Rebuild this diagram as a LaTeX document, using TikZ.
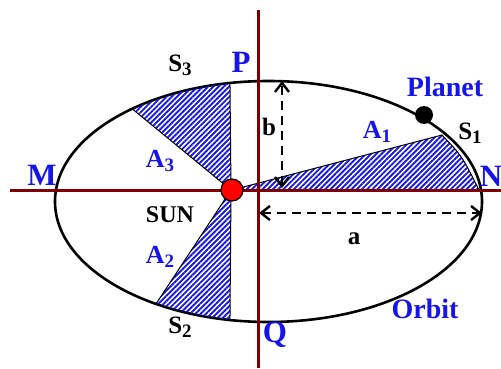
\documentclass[tikz,border=0pt]{standalone}
\usepackage{fontspec}
\setmainfont{Liberation Serif}
\usetikzlibrary{patterns.meta,arrows.meta}
\definecolor{axisred}{RGB}{128,0,0}
\definecolor{lblue}{RGB}{20,20,235}
\definecolor{hblue}{RGB}{25,25,220}
\newcommand\mysub[1]{\raisebox{-4pt}{\fontsize{19}{19}\selectfont #1}}
\begin{document}
\begin{tikzpicture}[x=1pt,y=1pt,
  bigl/.style={font=\bfseries\fontsize{31}{32}\selectfont, text=lblue, inner sep=0},
  midl/.style={font=\bfseries\fontsize{28}{30}\selectfont, text=lblue, inner sep=0},
  areal/.style={font=\bfseries\fontsize{26}{28}\selectfont, text=lblue, inner sep=0},
  blk/.style={font=\bfseries\fontsize{25}{27}\selectfont, text=black, inner sep=0},
  hatch/.style={pattern={Lines[angle=45,distance=3.7pt,line width=1.9pt]}, pattern color=hblue, draw=black, line width=1pt},
  axisline/.style={draw=axisred, line width=3pt},
  dimline/.style={draw=black, line width=2.6pt, dash pattern=on 9pt off 6pt,
     {Straight Barb[length=9pt,width=14pt,line width=2.4pt]}-{Straight Barb[length=9pt,width=14pt,line width=2.4pt]}}
]
\useasboundingbox (0,0) rectangle (501,368);
\def\ecx{268.5}\def\ecy{166.5}\def\ea{213.5}\def\eb{120.5}
% orbit
\draw[line width=2.6pt] (\ecx,\ecy) ellipse [x radius=\ea, y radius=\eb];
% swept areas
\path[hatch] (232,178) -- (442,233) .. controls (462,212) .. (479,178) -- cycle;
\path[hatch] (231,178) -- ({\ecx+\ea*cos(100.4)},{\ecy+\eb*sin(100.4)})
   arc[start angle=100.4,end angle=129.7,x radius=\ea,y radius=\eb] -- cycle;
\path[hatch] (231,178) -- ({\ecx+\ea*cos(238.2)},{\ecy+\eb*sin(238.2)})
   arc[start angle=238.2,end angle=259.6,x radius=\ea,y radius=\eb] -- cycle;
% axes
\coordinate (hl) at (10,178);
\coordinate (hr) at (501,178);
\coordinate (vt) at (258,358);
\coordinate (vb) at (258,0);
\draw[axisline] (hl) -- (hr);
\draw[axisline] (vt) -- (vb);
% dimension arrows
\coordinate (bbot) at (282,180);
\coordinate (btop) at (282,287);
\coordinate (aleft) at (259,155);
\coordinate (aright) at (482,155);
\draw[dimline] (bbot) -- (btop);
\draw[dimline] (aleft) -- (aright);
% sun and planet
\node[circle, fill=red, draw=black, line width=1.2pt, minimum size=22pt, inner sep=0] (sun) at (232,178) {};
\node[circle, fill=black, minimum size=18pt, inner sep=0] (planet) at (424,253) {};
% labels
\node[bigl] (P) at (241,306) {P};
\node[bigl] (Q) at (275,33) {Q};
\node[bigl] (M) at (42,193) {M};
\node[bigl] (N) at (491,192) {N};
\node[midl] (planetlbl) at (445,281) {Planet};
\node[midl] (orbit) at (425,59) {Orbit};
\node[areal] (A1) at (377,236) {A\mysub{1}};
\node[areal] (A2) at (160,111) {A\mysub{2}};
\node[areal] (A3) at (160,207) {A\mysub{3}};
\node[blk] (S1) at (470,235) {S\mysub{1}};
\node[blk] (S2) at (180,41) {S\mysub{2}};
\node[blk] (S3) at (180,303) {S\mysub{3}};
\node[blk, font=\bfseries\fontsize{24}{26}\selectfont] (sunlbl) at (170,153) {SUN};
\node[blk] (blbl) at (269,241) {b};
\node[blk] (albl) at (354,129) {a};
\end{tikzpicture}
\end{document}
